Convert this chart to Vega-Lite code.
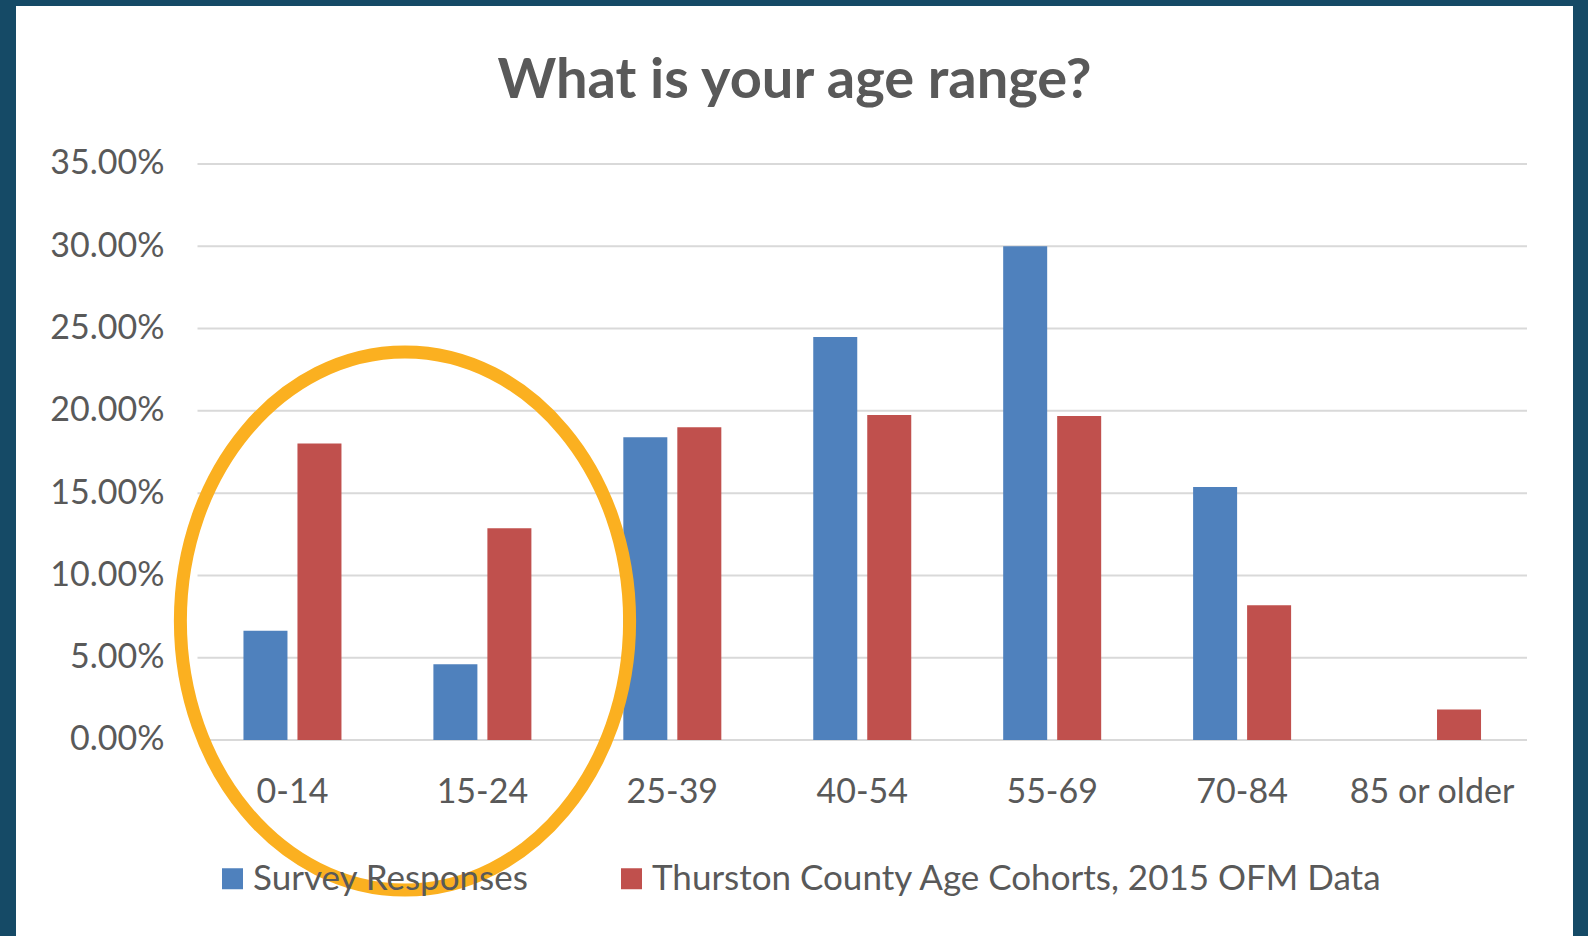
{
  "$schema": "https://vega.github.io/schema/vega-lite/v6.json",
  "autosize": "none",
  "width": 1557,
  "height": 930,
  "padding": {"left": 16, "top": 6, "right": 15, "bottom": 0},
  "background": "#154a66",
  "config": {
    "view": {"fill": "white", "stroke": null},
    "font": "Lato"
  },
  "title": {
    "text": "What is your age range?",
    "font": "Lato",
    "fontSize": 56,
    "fontWeight": "bold",
    "color": "#595959",
    "anchor": "middle",
    "orient": "top",
    "baseline": "alphabetic",
    "offset": -148
  },
  "datasets": {
    "bars": [
      {"age": "0-14", "series": "Survey Responses", "pct": 0.0664},
      {"age": "0-14", "series": "Thurston County Age Cohorts, 2015 OFM Data", "pct": 0.1802},
      {"age": "15-24", "series": "Survey Responses", "pct": 0.0461},
      {"age": "15-24", "series": "Thurston County Age Cohorts, 2015 OFM Data", "pct": 0.1286},
      {"age": "25-39", "series": "Survey Responses", "pct": 0.1839},
      {"age": "25-39", "series": "Thurston County Age Cohorts, 2015 OFM Data", "pct": 0.1900},
      {"age": "40-54", "series": "Survey Responses", "pct": 0.2448},
      {"age": "40-54", "series": "Thurston County Age Cohorts, 2015 OFM Data", "pct": 0.1975},
      {"age": "55-69", "series": "Survey Responses", "pct": 0.3000},
      {"age": "55-69", "series": "Thurston County Age Cohorts, 2015 OFM Data", "pct": 0.1968},
      {"age": "70-84", "series": "Survey Responses", "pct": 0.1538},
      {"age": "70-84", "series": "Thurston County Age Cohorts, 2015 OFM Data", "pct": 0.0818},
      {"age": "85 or older", "series": "Survey Responses", "pct": 0},
      {"age": "85 or older", "series": "Thurston County Age Cohorts, 2015 OFM Data", "pct": 0.0185}
    ],
    "grid": [
      {"gy": 0, "gx0": 0, "gx1": 7},
      {"gy": 0.05, "gx0": 0, "gx1": 7},
      {"gy": 0.10, "gx0": 0, "gx1": 7},
      {"gy": 0.15, "gx0": 0, "gx1": 7},
      {"gy": 0.20, "gx0": 0, "gx1": 7},
      {"gy": 0.25, "gx0": 0, "gx1": 7},
      {"gy": 0.30, "gx0": 0, "gx1": 7},
      {"gy": 0.35, "gx0": 0, "gx1": 7}
    ],
    "highlight": [
      {"ex": 1.0925, "ey": 0.0723}
    ]
  },
  "layer": [
    {
      "data": {"name": "grid"},
      "mark": {"type": "rule", "color": "#d9d9d9", "strokeWidth": 2},
      "encoding": {
        "x": {"field": "gx0", "type": "quantitative", "scale": {"domain": [0, 7], "range": [181.5, 1511], "nice": false, "zero": false}, "axis": null},
        "x2": {"field": "gx1"},
        "y": {"field": "gy", "type": "quantitative",
              "scale": {"domain": [-0.1191, 0.4460], "nice": false, "zero": false},
              "axis": {"orient": "left", "offset": -148, "values": [0, 0.05, 0.1, 0.15, 0.2, 0.25, 0.3, 0.35], "format": ".2%", "labelFontSize": 34, "labelColor": "#595959", "labelPadding": 0, "ticks": false, "domain": false, "grid": false, "title": null, "labelFont": "Lato"}}
      }
    },
    {
      "data": {"name": "bars"},
      "mark": {"type": "bar"},
      "encoding": {
        "x": {"field": "age", "type": "nominal", "sort": null,
              "scale": {"domain": ["0-14", "15-24", "25-39", "40-54", "55-69", "70-84", "85 or older"], "range": [181.5, 1511], "paddingInner": 0.484, "paddingOuter": 0.242},
              "axis": {"orient": "bottom", "offset": -196, "labelAngle": 0, "labelFontSize": 34, "labelColor": "#595959", "labelPadding": 35, "ticks": false, "domain": false, "grid": false, "title": null, "labelFont": "Lato"}},
        "xOffset": {"field": "series", "type": "nominal", "scale": {"paddingInner": 0.185, "paddingOuter": 0}},
        "y": {"field": "pct", "type": "quantitative",
              "scale": {"domain": [-0.1191, 0.4460], "nice": false, "zero": false},
              "axis": {"orient": "left", "offset": -148, "values": [0, 0.05, 0.1, 0.15, 0.2, 0.25, 0.3, 0.35], "format": ".2%", "labelFontSize": 34, "labelColor": "#595959", "labelPadding": 0, "ticks": false, "domain": false, "grid": false, "title": null, "labelFont": "Lato"}},
        "y2": {"datum": 0},
        "color": {"field": "series", "type": "nominal",
                  "scale": {"domain": ["Survey Responses", "Thurston County Age Cohorts, 2015 OFM Data"], "range": ["#4f81bd", "#c0504d"]},
                  "legend": {"orient": "none", "legendX": 199, "legendY": 855, "direction": "horizontal", "title": null, "symbolType": "square", "symbolSize": 441, "symbolStrokeWidth": 0, "symbolOpacity": 1, "labelFontSize": 35, "labelColor": "#595959", "labelOffset": 3, "columnPadding": 85, "padding": 0, "labelFont": "Lato", "labelLimit": 1000}}
      }
    },
    {
      "data": {"name": "highlight"},
      "mark": {"type": "point", "filled": false, "stroke": "#fbb020", "strokeWidth": 13, "opacity": 1,
               "shape": "M0.835,0C0.835,0.552,0.461,1,0,1C-0.461,1,-0.835,0.552,-0.835,0C-0.835,-0.552,-0.461,-1,0,-1C0.461,-1,0.835,-0.552,0.835,0Z",
               "size": 289444},
      "encoding": {
        "x": {"field": "ex", "type": "quantitative", "scale": {"domain": [0, 7], "range": [181.5, 1511], "nice": false, "zero": false}, "axis": null},
        "y": {"field": "ey", "type": "quantitative", "scale": {"domain": [-0.1191, 0.4460], "nice": false, "zero": false}}
      }
    }
  ],
  "resolve": {"scale": {"x": "independent"}, "axis": {"x": "independent"}}
}
